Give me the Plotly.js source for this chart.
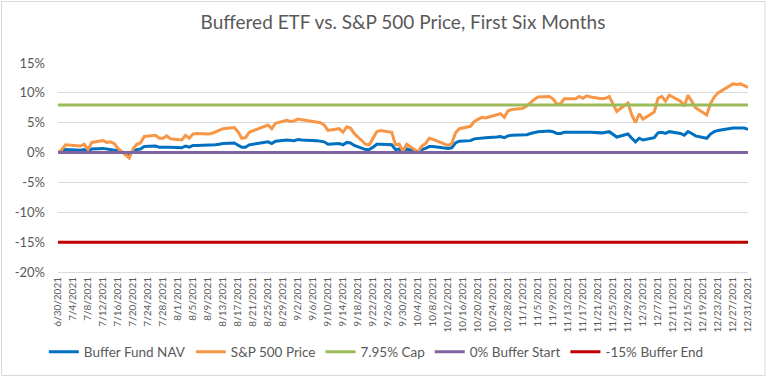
<!DOCTYPE html>
<html>
<head>
<meta charset="utf-8">
<script src="https://cdn.plot.ly/plotly-3.0.1.min.js"></script>
<style>html,body{margin:0;padding:0;background:#fff;}#chart{width:768px;height:377px;}</style>
</head>
<body>
<div id="chart"></div>
<script>
// Trading dates (second half of 2021)
const dates = [
"2021-06-30","2021-07-01","2021-07-02","2021-07-06","2021-07-07","2021-07-08","2021-07-09",
"2021-07-12","2021-07-13","2021-07-14","2021-07-15","2021-07-16",
"2021-07-19","2021-07-20","2021-07-21","2021-07-22","2021-07-23",
"2021-07-26","2021-07-27","2021-07-28","2021-07-29","2021-07-30",
"2021-08-02","2021-08-03","2021-08-04","2021-08-05","2021-08-06",
"2021-08-09","2021-08-10","2021-08-11","2021-08-12","2021-08-13",
"2021-08-16","2021-08-17","2021-08-18","2021-08-19","2021-08-20",
"2021-08-23","2021-08-24","2021-08-25","2021-08-26","2021-08-27",
"2021-08-30","2021-08-31","2021-09-01","2021-09-02","2021-09-03",
"2021-09-07","2021-09-08","2021-09-09","2021-09-10",
"2021-09-13","2021-09-14","2021-09-15","2021-09-16","2021-09-17",
"2021-09-20","2021-09-21","2021-09-22","2021-09-23","2021-09-24",
"2021-09-27","2021-09-28","2021-09-29","2021-09-30","2021-10-01",
"2021-10-04","2021-10-05","2021-10-06","2021-10-07","2021-10-08",
"2021-10-11","2021-10-12","2021-10-13","2021-10-14","2021-10-15",
"2021-10-18","2021-10-19","2021-10-20","2021-10-21","2021-10-22",
"2021-10-25","2021-10-26","2021-10-27","2021-10-28","2021-10-29",
"2021-11-01","2021-11-02","2021-11-03","2021-11-04","2021-11-05",
"2021-11-08","2021-11-09","2021-11-10","2021-11-11","2021-11-12",
"2021-11-15","2021-11-16","2021-11-17","2021-11-18","2021-11-19",
"2021-11-22","2021-11-23","2021-11-24","2021-11-26",
"2021-11-29","2021-11-30","2021-12-01","2021-12-02","2021-12-03",
"2021-12-06","2021-12-07","2021-12-08","2021-12-09","2021-12-10",
"2021-12-13","2021-12-14","2021-12-15","2021-12-16","2021-12-17",
"2021-12-20","2021-12-21","2021-12-22","2021-12-23",
"2021-12-27","2021-12-28","2021-12-29","2021-12-30","2021-12-31"
];

// S&P 500 price return since 6/30/2021 (%)
const spxReturn = [
0.0,0.5,1.3,1.1,1.4,0.5,1.7,
2.0,1.7,1.8,1.5,0.7,
-0.9,0.6,1.4,1.6,2.7,
2.9,2.4,2.4,2.8,2.3,
2.1,2.9,2.4,3.1,3.2,
3.1,3.2,3.5,3.8,4.0,
4.2,3.5,2.4,2.5,3.4,
4.2,4.4,4.6,4.0,4.9,
5.4,5.2,5.3,5.6,5.5,
5.2,5.0,4.6,3.7,
4.0,3.4,4.3,4.1,3.2,
1.4,1.3,2.3,3.5,3.7,
3.4,1.3,1.4,0.2,1.4,
0.1,1.1,1.5,2.4,2.2,
1.5,1.2,1.5,3.3,4.0,
4.4,5.2,5.6,5.9,5.8,
6.3,6.5,5.9,7.0,7.2,
7.4,7.8,8.4,8.9,9.3,
9.4,9.0,8.1,8.2,9.0,
9.0,9.4,9.1,9.5,9.3,
9.0,9.1,9.4,6.9,
8.3,6.3,5.0,6.5,5.6,
6.8,9.1,9.4,8.6,9.6,
8.6,7.8,9.6,8.6,7.5,
6.3,8.2,9.3,10.0,
11.5,11.4,11.5,11.2,10.9
];

// Buffer Fund NAV return since 6/30/2021 (%)
const navReturn = [
0.0,0.2,0.5,0.4,0.5,0.2,0.6,
0.7,0.6,0.6,0.5,0.3,
-0.3,0.2,0.5,0.6,1.0,
1.1,0.9,0.9,1.0,0.9,
0.8,1.1,0.9,1.2,1.2,
1.2,1.2,1.3,1.4,1.5,
1.6,1.3,0.9,0.9,1.3,
1.6,1.7,1.8,1.5,1.9,
2.1,2.0,2.0,2.2,2.1,
2.0,1.9,1.8,1.4,
1.5,1.3,1.7,1.6,1.2,
0.5,0.5,0.9,1.4,1.4,
1.3,0.5,0.6,0.1,0.6,
0.1,0.5,0.7,1.0,1.0,
0.8,0.7,0.8,1.6,1.9,
2.0,2.3,2.4,2.5,2.5,
2.6,2.7,2.5,2.8,2.9,
2.9,3.0,3.2,3.4,3.5,
3.6,3.5,3.2,3.2,3.4,
3.4,3.5,3.4,3.5,3.4,
3.3,3.4,3.5,2.6,
3.1,2.4,1.8,2.4,2.1,
2.5,3.3,3.4,3.2,3.5,
3.2,2.9,3.5,3.2,2.8,
2.4,3.1,3.5,3.7,
4.1,4.1,4.2,4.1,3.9
];

// Reference levels (%)
const capLevel = 7.95;
const bufferStartLevel = 0;
const bufferEndLevel = -15;

const seriesNames = ["Buffer Fund NAV","S&P 500 Price","7.95% Cap","0% Buffer Start","-15% Buffer End"];
const seriesColors = ["#0070C0","#F79646","#9BBB59","#8064A2","#C00000"];

const yTickVals = [-20,-15,-10,-5,0,5,10,15];
const yTickText = ["-20%","-15%","-10%","-5%","0%","5%","10%","15%"];

const first = dates[0], last = dates[dates.length-1];
const lw = 3;
const traces = [
  {x: dates, y: navReturn, name: seriesNames[0]},
  {x: dates, y: spxReturn, name: seriesNames[1]},
  {x: [first,last], y: [capLevel,capLevel], name: seriesNames[2]},
  {x: [first,last], y: [bufferStartLevel,bufferStartLevel], name: seriesNames[3]},
  {x: [first,last], y: [bufferEndLevel,bufferEndLevel], name: seriesNames[4]}
].map((t,i)=>Object.assign(t,{type:"scatter",mode:"lines",line:{color:seriesColors[i],width:lw},hoverinfo:"skip"}));

const font = "Lato, 'Open Sans', sans-serif";
const gray = "#595959";
const L=58, R=748, T=63, B=272;
const W=768, H=377;
const px = v => (v-L)/(R-L);
const py = v => (B-v)/(B-T);

const layout = {
  width: W, height: H,
  margin: {l:L, r:W-R, t:T, b:H-B, pad:0, autoexpand:false},
  paper_bgcolor:"#ffffff", plot_bgcolor:"#ffffff",
  font: {family: font, color: gray},
  title: {text:"Buffered ETF vs. S&P 500 Price, First Six Months", font:{size:19, color:gray, family:font}, x:0.5, xanchor:"center", y:1-22/H, yanchor:"middle", xref:"paper"},
  showlegend: true,
  legend: {orientation:"h", xref:"container", yref:"container", x:0.49, xanchor:"center", y:1-352/H, yanchor:"middle", font:{size:13.5, color:gray, family:font}, itemwidth:30, tracegroupgap:0, traceorder:"normal"},
  xaxis: {
    type:"date", range:[first,last], tick0:first, dtick:4*86400000,
    tickformat:"%-m/%-d/%Y", tickangle:-90, tickfont:{size:10, color:gray, family:font},
    showgrid:false, showline:true, linecolor:"#d9d9d9", linewidth:1, ticks:"", zeroline:false, fixedrange:true
  },
  yaxis: {
    range:[-20,15], tickvals:yTickVals, ticktext:yTickText, tickfont:{size:13, color:gray, family:font},
    showgrid:true, gridcolor:"#d9d9d9", gridwidth:1, zeroline:false, showline:false, ticks:"",
    ticklabelstandoff:12, fixedrange:true
  },
  shapes: [
    {type:"rect", xref:"paper", yref:"paper", x0:px(1.5), x1:px(765), y0:py(375.5), y1:py(1.5), line:{color:"#d9d9d9", width:1}, fillcolor:"rgba(0,0,0,0)", layer:"below"}
  ]
};

Plotly.newPlot("chart", traces, layout, {staticPlot:true, displayModeBar:false});
</script>
</body>
</html>
